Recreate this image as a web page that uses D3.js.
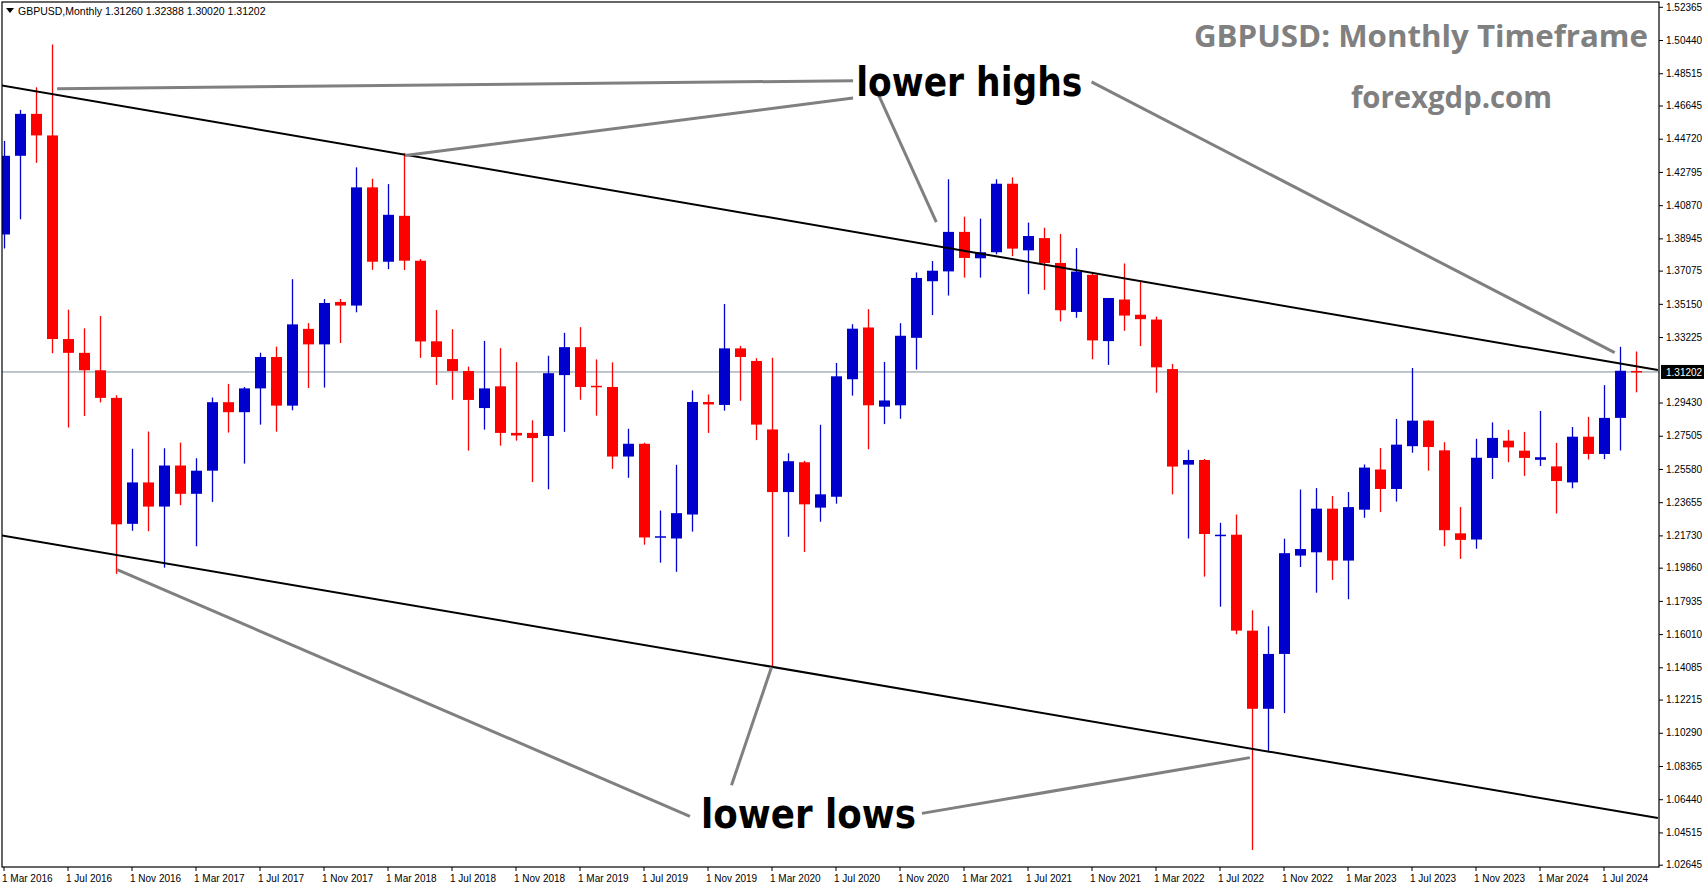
<!DOCTYPE html>
<html><head><meta charset="utf-8">
<script src="https://cdn.jsdelivr.net/npm/d3@7/dist/d3.min.js"></script>
<style>body{margin:0;background:#fff;}svg{display:block;}</style>
</head><body>
<svg id="c" width="1705" height="888"></svg>
<script>
const startMonth = "2016-03";
const opens  = [1.3917,1.4373,1.4616,1.4491,1.3311,1.3231,1.3130,1.2970,1.2240,1.2480,
 1.2340,1.2578,1.2414,1.2548,1.2945,1.2887,1.3025,1.3207,1.2925,1.3370,1.3280,1.3526,
 1.3505,1.4190,1.3759,1.4025,1.3765,1.3298,1.3195,1.3126,1.2911,1.3037,1.2767,1.2767,
 1.2749,1.3102,1.3264,1.3040,1.3033,1.2630,1.2704,1.2161,1.2155,1.2294,1.2946,1.2929,
 1.3257,1.3184,1.2787,1.2424,1.2597,1.2334,1.2397,1.3078,1.3378,1.2919,1.2927,1.3318,
 1.3646,1.3703,1.3932,1.3779,1.3814,1.4211,1.3825,1.3896,1.3752,1.3468,1.3683,1.3299,
 1.3540,1.3452,1.3424,1.3137,1.2583,1.2610,1.2170,1.2177,1.1621,1.1168,1.1486,1.2056,
 1.2075,1.2328,1.2027,1.2322,1.2555,1.2442,1.2690,1.2838,1.2666,1.2185,1.2149,1.2622,
 1.2722,1.2664,1.2611,1.2573,1.2480,1.2745,1.2645,1.2854,1.31260];
const highs  = [1.4459,1.4639,1.4770,1.5018,1.3481,1.3373,1.3445,1.2985,1.2675,1.2775,
 1.2678,1.2711,1.2620,1.2972,1.3051,1.3033,1.3232,1.3267,1.3658,1.3403,1.3543,1.3543,
 1.4306,1.4240,1.4209,1.4387,1.3775,1.3479,1.3368,1.3151,1.3300,1.3258,1.3177,1.2840,
 1.3214,1.3347,1.3380,1.3193,1.3176,1.2791,1.2710,1.2317,1.2582,1.3013,1.2990,1.3514,
 1.3271,1.3200,1.3202,1.2649,1.2605,1.2814,1.3172,1.3397,1.3484,1.3178,1.3403,1.3697,
 1.3763,1.4237,1.4020,1.4009,1.4237,1.4248,1.3986,1.3956,1.3920,1.3838,1.3700,1.3549,
 1.3749,1.3650,1.3441,1.3167,1.2669,1.2616,1.2246,1.2294,1.1739,1.1646,1.2154,1.2439,
 1.2447,1.2401,1.2424,1.2584,1.2680,1.2848,1.3143,1.2841,1.2713,1.2337,1.2733,1.2828,
 1.2785,1.2773,1.2894,1.2709,1.2801,1.2860,1.3044,1.3266,1.32388];
const lows   = [1.3836,1.4005,1.4332,1.3229,1.2798,1.2865,1.2944,1.1950,1.2200,1.2197,
 1.1986,1.2348,1.2110,1.2367,1.2769,1.2589,1.2815,1.2774,1.2898,1.3027,1.3030,1.3288,
 1.3466,1.3712,1.3716,1.3711,1.3202,1.3045,1.2959,1.2664,1.2786,1.2693,1.2722,1.2482,
 1.2440,1.2773,1.2959,1.2867,1.2559,1.2507,1.2119,1.2015,1.1962,1.2195,1.2767,1.2896,
 1.2953,1.2725,1.1409,1.2165,1.2077,1.2252,1.2357,1.2983,1.2672,1.2818,1.2849,1.3134,
 1.3450,1.3563,1.3667,1.3667,1.3802,1.3791,1.3571,1.3596,1.3413,1.3434,1.3194,1.3161,
 1.3359,1.3270,1.3000,1.2411,1.2155,1.1934,1.1760,1.1600,1.0350,1.0924,1.1143,1.1990,
 1.1841,1.1915,1.1803,1.2275,1.2308,1.2369,1.2652,1.2548,1.2110,1.2037,1.2096,1.2500,
 1.2597,1.2518,1.2575,1.2300,1.2446,1.2613,1.2615,1.2665,1.30020];
const closes = [1.4373,1.4616,1.4491,1.3311,1.3231,1.3130,1.2970,1.2237,1.2480,1.2340,
 1.2578,1.2414,1.2548,1.2945,1.2887,1.3025,1.3207,1.2925,1.3396,1.3280,1.3520,1.3505,
 1.4190,1.3759,1.4031,1.3765,1.3297,1.3207,1.3126,1.2958,1.3025,1.2767,1.2752,1.2737,
 1.3113,1.3264,1.3033,1.3035,1.2630,1.2704,1.2161,1.2168,1.2302,1.2946,1.2932,1.3257,
 1.3207,1.2815,1.2424,1.2603,1.2353,1.2411,1.3095,1.3371,1.2927,1.2955,1.3330,1.3665,
 1.3707,1.3932,1.3781,1.3814,1.4211,1.3835,1.3908,1.3752,1.3478,1.3702,1.3303,1.3549,
 1.3447,1.3426,1.3147,1.2572,1.2610,1.2181,1.2177,1.1621,1.1168,1.1486,1.2070,1.2094,
 1.2328,1.2027,1.2337,1.2566,1.2442,1.2699,1.2838,1.2685,1.2203,1.2147,1.2623,1.2738,
 1.2683,1.2622,1.2626,1.2488,1.2745,1.2645,1.2854,1.3127,1.31202];
const priceTicks = [1.52365,1.50440,1.48515,1.46645,1.44720,1.42795,1.40870,1.38945,1.37075,
 1.35150,1.33225,1.29430,1.27505,1.25580,1.23655,1.21730,1.19860,1.17935,1.16010,1.14085,
 1.12215,1.10290,1.08365,1.06440,1.04515,1.02645];
const dateLabels = ["1 Mar 2016","1 Jul 2016","1 Nov 2016","1 Mar 2017","1 Jul 2017","1 Nov 2017",
 "1 Mar 2018","1 Jul 2018","1 Nov 2018","1 Mar 2019","1 Jul 2019","1 Nov 2019","1 Mar 2020",
 "1 Jul 2020","1 Nov 2020","1 Mar 2021","1 Jul 2021","1 Nov 2021","1 Mar 2022","1 Jul 2022",
 "1 Nov 2022","1 Mar 2023","1 Jul 2023","1 Nov 2023","1 Mar 2024","1 Jul 2024"];
const currentPrice = 1.31202;
const upperTrend = [[-0.22,1.4783],[103.4,1.3131]];
const lowerTrend = [[-0.22,1.2175],[103.4,1.0535]];
const highPointers = [[[3.35,1.4762],[53.1,1.4808]],[[25.1,1.4375],[53.1,1.4708]],[[54.5,1.4765],[58.3,1.3988]],[[68,1.4801],[100.7,1.3232]]];
const lowPointers  = [[[7.1,1.1975],[42.9,1.0545]],[[48,1.1409],[45.5,1.0725]],[[57.4,1.0562],[77.9,1.0885]]];

const svg = d3.select("#c");
const L = 2, R = 1659, T = 2, B = 867;
const FONT = "Tahoma, 'Liberation Sans', Arial, sans-serif";
const x = d3.scaleLinear().domain([0,1]).range([3.5,19.5]);
const y = d3.scaleLinear().domain([1.02645,1.52365]).range([864.7,6.8]);
svg.append("clipPath").attr("id","pc").append("rect").attr("x",L).attr("y",T).attr("width",R-L).attr("height",B-T);
const g = svg.append("g").attr("clip-path","url(#pc)");

g.append("line").attr("x1",L).attr("x2",R).attr("y1",y(currentPrice)).attr("y2",y(currentPrice)).attr("stroke","#7f8c99").attr("stroke-width",1);

const data = opens.map((o,i)=>({i,o,h:highs[i],l:lows[i],c:closes[i]}));
const col = d => d.c >= d.o ? "#0000CD" : "#FF0000";
g.selectAll(".w").data(data).join("line")
 .attr("x1",d=>Math.round(x(d.i))+0.5).attr("x2",d=>Math.round(x(d.i))+0.5)
 .attr("y1",d=>y(d.h)).attr("y2",d=>y(d.l)).attr("stroke",col).attr("stroke-width",1.3);
g.selectAll(".b").data(data).join("rect")
 .attr("x",d=>Math.round(x(d.i))-5).attr("width",11)
 .attr("y",d=>y(Math.max(d.o,d.c))).attr("height",d=>Math.max(1.5,Math.abs(y(d.o)-y(d.c))))
 .attr("fill",col);

[upperTrend,lowerTrend].forEach(t=>{
 g.append("line").attr("x1",x(t[0][0])).attr("y1",y(t[0][1])).attr("x2",x(t[1][0])).attr("y2",y(t[1][1]))
  .attr("stroke","#000").attr("stroke-width",2);
});
highPointers.concat(lowPointers).forEach(p=>{
 g.append("line").attr("x1",x(p[0][0])).attr("y1",y(p[0][1])).attr("x2",x(p[1][0])).attr("y2",y(p[1][1]))
  .attr("stroke","#808080").attr("stroke-width",3);
});
g.append("text").attr("x",x(53.3)).attr("y",y(1.4808)+15).text("lower highs")
 .attr("font-family","Tahoma, 'DejaVu Sans', sans-serif").attr("font-weight","bold").attr("font-size",40)
 .attr("textLength",226).attr("lengthAdjust","spacingAndGlyphs").attr("fill","#000");
g.append("text").attr("x",x(43.6)).attr("y",y(1.0508)+5).text("lower lows")
 .attr("font-family","Tahoma, 'DejaVu Sans', sans-serif").attr("font-weight","bold").attr("font-size",40)
 .attr("textLength",215).attr("lengthAdjust","spacingAndGlyphs").attr("fill","#000");
g.append("text").attr("x",1648).attr("y",47).attr("text-anchor","end").text("GBPUSD: Monthly Timeframe")
 .attr("font-family","'Open Sans', 'DejaVu Sans', sans-serif").attr("font-weight","bold").attr("font-size",31)
 .attr("textLength",454).attr("lengthAdjust","spacingAndGlyphs").attr("fill","#808080");
g.append("text").attr("x",1351).attr("y",108).text("forexgdp.com")
 .attr("font-family","'Open Sans', 'DejaVu Sans', sans-serif").attr("font-weight","bold").attr("font-size",31)
 .attr("textLength",201).attr("lengthAdjust","spacingAndGlyphs").attr("fill","#808080");

svg.append("path").attr("d","M6,8 L14,8 L10,13 Z").attr("fill","#000");
svg.append("text").attr("x",18).attr("y",15).text("GBPUSD,Monthly  1.31260 1.32388 1.30020 1.31202")
 .attr("font-family",FONT).attr("font-size",10.5).attr("fill","#000");

svg.append("rect").attr("x",L).attr("y",T).attr("width",R-L).attr("height",B-T).attr("fill","none").attr("stroke","#000").attr("stroke-width",1.2);

const ay = svg.append("g").attr("transform",`translate(${R},0)`)
 .call(d3.axisRight(y).tickValues(priceTicks).tickFormat(d3.format(".5f")).tickSize(4));
ay.select(".domain").remove();
ay.selectAll("text").attr("font-family",FONT).attr("font-size",10).attr("x",7);
const cp = svg.append("g").attr("transform",`translate(${R+2},${y(currentPrice)})`);
cp.append("rect").attr("x",0).attr("y",-7).attr("width",43).attr("height",14).attr("fill","#000");
cp.append("text").attr("x",5).attr("y",4).text(currentPrice.toFixed(5)).attr("fill","#fff")
 .attr("font-family",FONT).attr("font-size",10);

const dateIdx = dateLabels.map((d,k)=>k*4);
const ax = svg.append("g").attr("transform",`translate(0,${B})`)
 .call(d3.axisBottom(x).tickValues(dateIdx).tickFormat((d,k)=>dateLabels[k]).tickSize(4));
ax.select(".domain").remove();
ax.selectAll("text").attr("text-anchor","start").attr("font-family",FONT)
 .attr("font-size",10).attr("dx",-2).attr("y",8);
</script>
</body></html>
